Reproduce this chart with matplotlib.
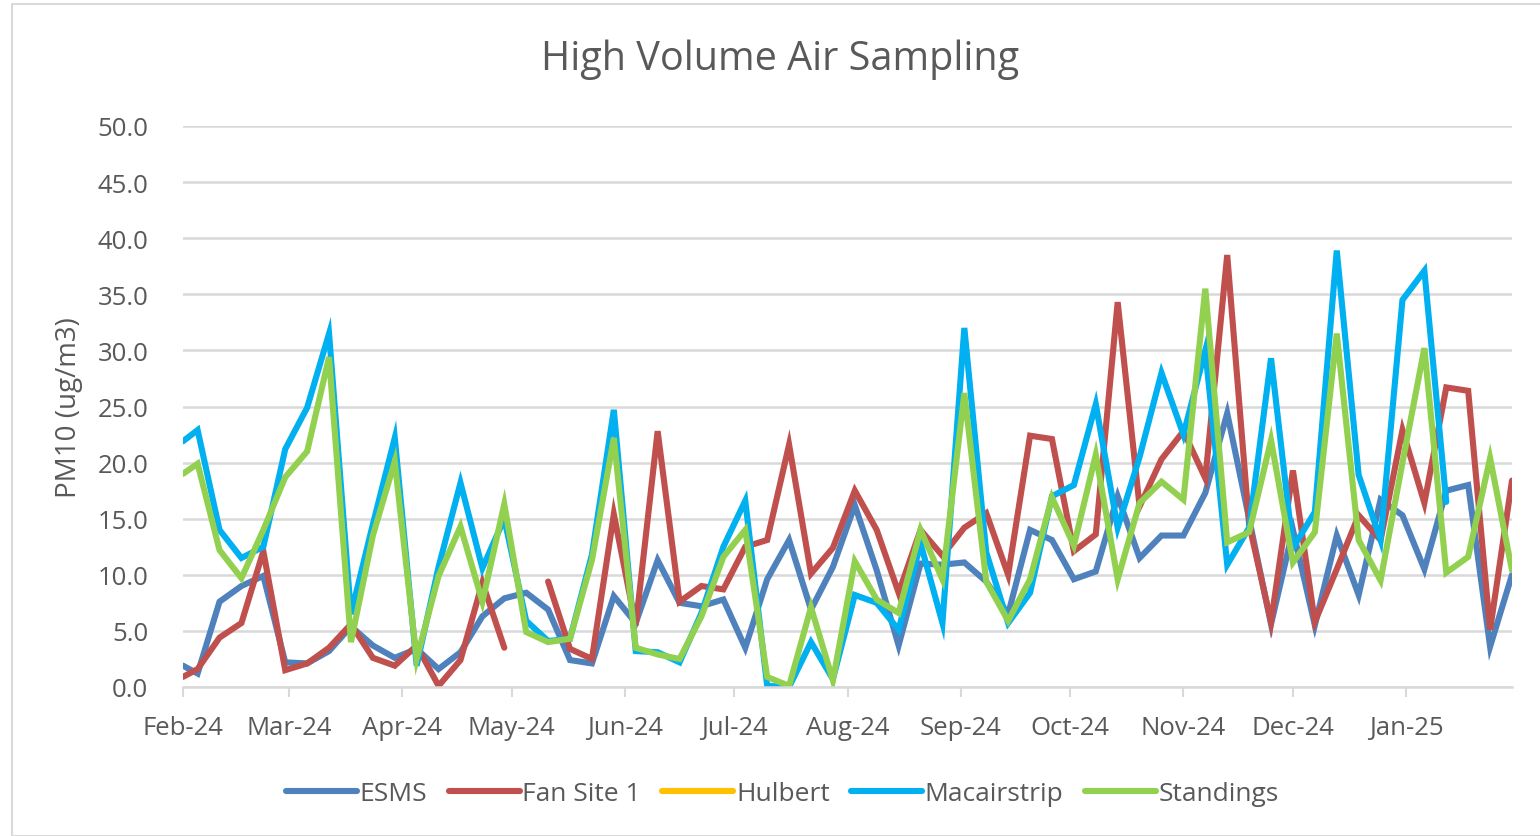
import numpy as np
import pandas as pd
import matplotlib
matplotlib.use("Agg")
import matplotlib.pyplot as plt
import matplotlib.dates as mdates
from matplotlib.patches import Rectangle

nan = np.nan

# sample dates: first sample on 1 Feb, then the 1-in-6 day schedule
dates = [pd.Timestamp("2024-02-01")] + list(pd.date_range("2024-02-05", "2025-01-30", freq="6D"))

esms = [1.9, 1.2, 7.6, 9.0, 9.9, 2.2, 2.1, 3.2, 5.4, 3.7,
        2.6, 3.4, 1.6, 3.1, 6.3, 7.9, 8.4, 6.9, 2.4, 2.1,
        8.1, 5.7, 11.3, 7.5, 7.2, 7.8, 3.5, 9.6, 13.1, 6.9,
        10.7, 16.2, 10.4, 3.7, 11.0, 10.9, 11.1, 9.4, 6.5, 14.0,
        13.1, 9.6, 10.3, 17.0, 11.5, 13.5, 13.5, 17.3, 24.4, 15.0,
        5.6, 14.0, 5.5, 13.5, 8.2, 16.7, 15.3, 10.5, 17.5, 18.0,
        3.6, 10.0]

fan_site_1 = [0.9, 1.6, 4.4, 5.7, 12.1, 1.5, 2.1, 3.5, 5.6, 2.6,
              1.9, 3.7, 0.1, 2.4, 9.3, 3.5, nan, 9.4, 3.4, 2.5,
              15.4, 5.5, 22.8, 7.6, 9.0, 8.7, 12.5, 13.1, 21.6, 10.1,
              12.4, 17.5, 14.0, 8.4, 14.0, 11.7, 14.2, 15.5, 10.0, 22.4,
              22.1, 12.1, 13.6, 34.3, 16.1, 20.3, 22.8, 18.6, 38.5, 14.5,
              5.8, 19.3, 5.8, 10.5, 15.3, 13.1, 22.9, 16.4, 26.7, 26.4,
              5.1, 18.4]

hulbert = [nan] * 62

macairstrip = [21.9, 22.9, 14.0, 11.5, 12.5, 21.2, 24.9, 31.5, 6.5, 14.5,
               22.2, 1.9, 10.7, 18.2, 10.6, 15.0, 5.9, 4.1, 4.3, 11.8,
               24.7, 3.2, 3.1, 2.2, 6.6, 12.5, 16.6, 0.1, 0.0, 4.0,
               0.7, 8.2, 7.5, 5.1, 12.8, 5.7, 32.0, 12.0, 5.7, 8.4,
               17.0, 18.0, 25.2, 14.2, 20.5, 28.0, 22.5, 30.0, 10.9, 14.2,
               29.3, 12.4, 15.6, 38.9, 18.9, 13.1, 34.5, 37.1, 16.5, nan,
               nan, nan]

standings = [19.0, 19.9, 12.2, 9.7, 14.0, 18.7, 21.0, 29.4, 4.0, 13.5,
             20.1, 2.5, 9.9, 14.3, 7.6, 16.3, 4.9, 4.0, 4.3, 11.3,
             22.2, 3.5, 2.9, 2.5, 6.3, 11.6, 14.0, 0.9, 0.1, 7.1,
             0.6, 11.2, 7.8, 6.6, 14.0, 9.6, 26.2, 9.4, 5.9, 9.6,
             16.9, 12.6, 20.7, 9.6, 16.4, 18.3, 16.7, 35.5, 12.9, 13.8,
             22.0, 11.1, 13.8, 31.5, 13.1, 9.5, 20.0, 30.2, 10.2, 11.6,
             20.4, 10.4]

series = [("ESMS", esms, "#4F81BD"),
          ("Fan Site 1", fan_site_1, "#C0504D"),
          ("Hulbert", hulbert, "#FFC000"),
          ("Macairstrip", macairstrip, "#00B0F0"),
          ("Standings", standings, "#92D050")]

plt.rcParams["font.family"] = ["Open Sans", "DejaVu Sans"]
grey = "#595959"

fig = plt.figure(figsize=(15.4, 8.37), dpi=100)
fig.patches.append(Rectangle((12 / 1540, 0), 1, 1 - 5 / 837, transform=fig.transFigure,
                             facecolor="none", edgecolor="#D9D9D9", linewidth=1.5, zorder=-5))
ax = fig.add_axes([183 / 1540, 1 - 688 / 837, (1512 - 183) / 1540, (688 - 127) / 837])

for name, vals, col in series:
    ax.plot(dates, vals, color=col, linewidth=4.4, label=name, solid_capstyle="round",
            solid_joinstyle="miter")

ax.set_ylim(0, 50)
ax.set_yticks(np.arange(0, 51, 5))
ax.yaxis.set_major_formatter(matplotlib.ticker.FormatStrFormatter("%.1f"))
ax.set_xlim(pd.Timestamp("2024-02-01"), pd.Timestamp("2025-01-30"))
ax.xaxis.set_major_locator(mdates.MonthLocator())
ax.xaxis.set_major_formatter(mdates.DateFormatter("%b-%y"))

ax.grid(axis="y", color="#D9D9D9", linewidth=1.8)
ax.set_axisbelow(True)
for s in ["top", "right", "left"]:
    ax.spines[s].set_visible(False)
ax.spines["bottom"].set_color("#D9D9D9")
ax.spines["bottom"].set_linewidth(1.8)
ax.tick_params(axis="y", length=0, pad=25, labelsize=18.5, labelcolor=grey)
ax.tick_params(axis="x", length=7, width=1.5, color="#D9D9D9", pad=13, labelsize=18.5, labelcolor=grey)

ax.set_ylabel("PM10 (ug/m3)", fontsize=20, color=grey, labelpad=10)
fig.text(780 / 1540, 1 - 60 / 837, "High Volume Air Sampling", ha="center", va="center",
         fontsize=28.5, color=grey)

ax.legend(loc="center", bbox_to_anchor=(0.451, -0.19), ncol=5, frameon=False, fontsize=19,
          labelcolor=grey, handlelength=2.7, handletextpad=0.1, columnspacing=0.8)

fig.savefig("out.png", dpi=100)
